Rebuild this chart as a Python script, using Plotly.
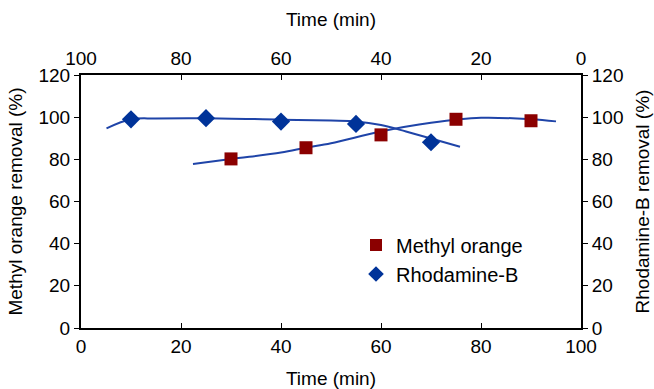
import plotly.graph_objects as go

# Data
mo_time = [30, 45, 60, 75, 90]
mo_removal = [80.2, 85.5, 91.6, 99.0, 98.3]
rb_time = [90, 75, 60, 45, 30]          # plotted on top (reversed) time axis
rb_removal = [99.0, 99.5, 97.9, 96.8, 88.1]

# trendline curves
mo_trend_time = [22.4, 30, 40, 45, 50, 60, 70, 80, 90, 95]
mo_trend_val = [77.8, 80.2, 83.2, 85.5, 87.6, 93.2, 97.3, 99.7, 99.0, 98.0]
rb_trend_time = [94.9, 90, 85, 75, 60, 50, 45, 40, 35, 30, 24.2]   # top-axis units
rb_trend_val = [94.7, 99.0, 99.4, 99.5, 98.8, 98.4, 98.0, 96.3, 93.2, 89.9, 86.0]

x_ticks = [0, 20, 40, 60, 80, 100]
y_ticks = [0, 20, 40, 60, 80, 100, 120]

FONT = "Liberation Sans, Arial, Helvetica, sans-serif"
RED = "#8B0000"
NAVY = "#003399"
LINE = "#1F44A8"

fig = go.Figure()
fig.add_trace(go.Scatter(x=mo_trend_time, y=mo_trend_val, mode="lines",
                         line=dict(color=LINE, width=2, shape="spline", smoothing=1),
                         showlegend=False, xaxis="x", yaxis="y"))
fig.add_trace(go.Scatter(x=rb_trend_time, y=rb_trend_val, mode="lines",
                         line=dict(color=LINE, width=2, shape="spline", smoothing=1),
                         showlegend=False, xaxis="x2", yaxis="y2"))
fig.add_trace(go.Scatter(x=mo_time, y=mo_removal, mode="markers", name="Methyl orange",
                         marker=dict(symbol="square", size=13, color=RED),
                         xaxis="x", yaxis="y"))
fig.add_trace(go.Scatter(x=rb_time, y=rb_removal, mode="markers", name="Rhodamine-B",
                         marker=dict(symbol="diamond", size=14, color=NAVY),
                         xaxis="x2", yaxis="y2"))

axis_common = dict(showgrid=False, zeroline=False, showline=True, linecolor="black",
                   linewidth=2, ticklen=5, tickwidth=1, tickcolor="black",
                   automargin=False,
                   tickfont=dict(family=FONT, size=19, color="black"))
title_font = dict(family=FONT, size=19, color="black")

fig.update_layout(
    width=654, height=389,
    margin=dict(l=81, r=73, t=75, b=61),
    paper_bgcolor="white", plot_bgcolor="white",
    font=dict(family=FONT, size=19, color="black"),
    xaxis=dict(range=[0, 100], tickvals=x_ticks, ticks="inside",
               title=dict(text="Time (min)", font=title_font, standoff=17), **axis_common),
    xaxis2=dict(range=[100, 0], tickvals=x_ticks, ticks="inside", overlaying="x",
                side="top", anchor="y",
                title=dict(text="Time (min)", font=title_font, standoff=17), **axis_common),
    yaxis=dict(range=[0, 120], tickvals=y_ticks, ticks="outside",
               title=dict(text="Methyl orange removal (%)", font=title_font, standoff=11),
               **axis_common),
    yaxis2=dict(range=[0, 120], tickvals=y_ticks, ticks="outside", overlaying="y",
                side="right", anchor="x",
                title=dict(text="Rhodamine-B removal (%)", font=title_font, standoff=13),
                **axis_common),
    legend=dict(x=0.55, y=0.405, xanchor="left", yanchor="top",
                bgcolor="rgba(0,0,0,0)", font=dict(family=FONT, size=20),
                itemsizing="constant", tracegroupgap=4),
    showlegend=True,
)

fig.write_html("out.html")
